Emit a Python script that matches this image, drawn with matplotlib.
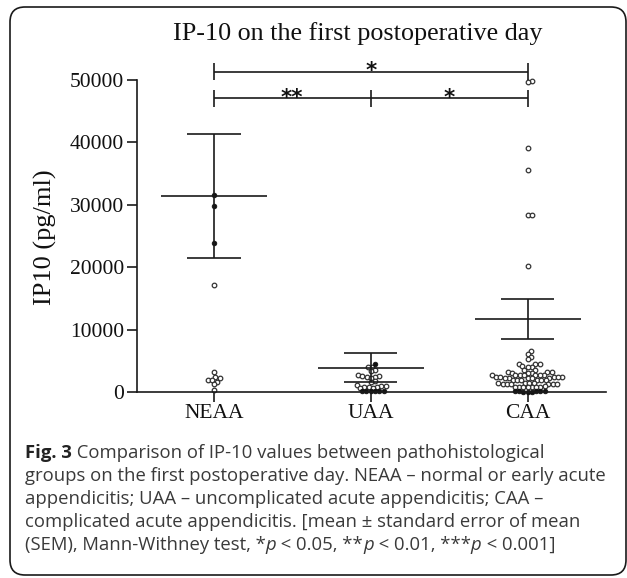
import numpy as np
import matplotlib
matplotlib.use("Agg")
import matplotlib.pyplot as plt
from matplotlib.patches import FancyBboxPatch
from matplotlib.transforms import IdentityTransform

# ---------------- data ----------------
categories = ["NEAA", "UAA", "CAA"]
means = [31400, 3900, 11700]
sems = [9900, 2270, 3280]

neaa_open = [17200, 3150, 2400, 2200, 1950, 1900, 1650, 1250, 400]
neaa_filled = [31500, 29800, 23900]

uaa_open = [4050, 3950, 3500, 3400, 2700, 2600, 2500, 2450, 2400, 2300,
            1700, 1600, 1150, 950, 900, 850, 800, 750, 700, 650]
uaa_filled = [4550, 100, 100, 100, 100, 100, 100]

caa_open = [49900, 49700, 39100, 35500, 28300, 28300, 20200,
            6600, 6100, 5650, 5250,
            4550, 4500, 4450,
            4100, 4050, 4000,
            3550, 3500,
            3200, 3150, 3150, 3100, 3100, 3050,
            2750, 2750, 2700, 2700, 2700, 2650, 2650,
            2400, 2400, 2350, 2350, 2350, 2300, 2300, 2300, 2250, 2250,
            1950, 1950, 1900, 1900, 1900, 1850,
            1450, 1400, 1400, 1400, 1350, 1350, 1350, 1300, 1300, 1250,
            900, 850, 850, 850, 800, 800, 800, 750]
caa_filled = [200, 150, 150, 100, 100, 50, 50, 0]

yticks = [0, 10000, 20000, 30000, 40000, 50000]
title = "IP-10 on the first postoperative day"
ylabel = "IP10 (pg/ml)"
# significance brackets: (x_from, x_to, label)
sig_top = [(0, 2, "*")]
sig_low = [(0, 1, "**"), (1, 2, "*")]

caption_lines = [
    [("Fig. 3", "bold", "normal"), (" Comparison of IP-10 values between pathohistological", "normal", "normal")],
    [("groups on the first postoperative day. NEAA \u2013 normal or early acute", "normal", "normal")],
    [("appendicitis; UAA \u2013 uncomplicated acute appendicitis; CAA \u2013", "normal", "normal")],
    [("complicated acute appendicitis. [mean \u00b1 standard error of mean", "normal", "normal")],
    [("(SEM), Mann-Withney test, *", "normal", "normal"), ("p", "normal", "italic"),
     (" < 0.05, **", "normal", "normal"), ("p", "normal", "italic"),
     (" < 0.01, ***", "normal", "normal"), ("p", "normal", "italic"),
     (" < 0.001]", "normal", "normal")],
]

# ---------------- figure ----------------
W, H = 627, 578
fig = plt.figure(figsize=(W / 100, H / 100), dpi=100)
fig.patch.set_facecolor("white")

# rounded frame
frame = FancyBboxPatch((10, H - 575), 616, 568,
                       boxstyle="round,pad=0,rounding_size=15",
                       transform=IdentityTransform(), fill=False,
                       edgecolor="#1a1a1a", linewidth=1.2)
fig.patches.append(frame)

ax = fig.add_axes([137 / W, 1 - 392 / H, (606 - 137) / W, (392 - 80) / H])
ax.set_xlim(-0.49, 2.5)
ax.set_ylim(0, 50000)

serif = "Liberation Serif"
lc = "#1a1a1a"

for s in ["top", "right"]:
    ax.spines[s].set_visible(False)
for s in ["left", "bottom"]:
    ax.spines[s].set_linewidth(1.2)
    ax.spines[s].set_color(lc)

ax.set_yticks(yticks)
ax.set_yticklabels([str(v) for v in yticks], fontfamily=serif, fontsize=15.5)
ax.set_xticks(range(len(categories)))
ax.set_xticklabels(categories, fontfamily=serif, fontsize=15.5)
ax.tick_params(axis="y", length=7, width=1.2, color=lc, pad=2.5, labelcolor="#111")
ax.tick_params(axis="x", length=7, width=1.2, color=lc, pad=1.5, labelcolor="#111")

ax.set_ylabel(ylabel, fontfamily=serif, fontsize=19, va="center", color="#111")
ax.yaxis.set_label_coords(-0.196, 0.497)

fig.text(358 / W, 1 - 40 / H, title, ha="center", va="baseline",
         fontfamily=serif, fontsize=18.8, color="#111")

# ---------------- swarm layout ----------------
fig.canvas.draw()
p0 = ax.transData.transform((0, 0))
p1 = ax.transData.transform((1, 10000))
x_px_per_unit = p1[0] - p0[0]
y_px_per_unit = (p1[1] - p0[1]) / 10000.0


def swarm(values, d_px=4.3):
    ys = np.asarray(values, float) * y_px_per_unit
    order = np.argsort(ys, kind="stable")
    placed = []
    xs = np.zeros(len(ys))
    for i in order:
        y = ys[i]
        cands = [0.0]
        for (px, py) in placed:
            dy = abs(y - py)
            if dy < d_px:
                dx = np.sqrt(d_px ** 2 - dy ** 2)
                cands += [px + dx, px - dx]
        cands.sort(key=lambda c: (round(abs(c), 6), -c))
        for c in cands:
            if all((c - px) ** 2 + (y - py) ** 2 >= d_px ** 2 - 1e-6 for px, py in placed):
                xs[i] = c
                break
        placed.append((xs[i], y))
    return xs / x_px_per_unit


groups = [(neaa_open, neaa_filled), (uaa_open, uaa_filled), (caa_open, caa_filled)]
for gi, (op, fi) in enumerate(groups):
    vals = list(fi) + list(op)
    flags = [True] * len(fi) + [False] * len(op)
    offs = swarm(vals)
    vals = np.array(vals)
    flags = np.array(flags)
    xs = gi + offs
    ax.plot(xs[~flags], vals[~flags], "o", ms=3.3, mfc="white", mec="#333333",
            mew=0.9, ls="none", zorder=2, clip_on=False)
    ax.plot(xs[flags], vals[flags], "o", ms=3.4, mfc="#111111", mec="#111111",
            mew=0.5, ls="none", zorder=2.5, clip_on=False)

# ---------------- mean +- SEM ----------------
for gi, (m, s) in enumerate(zip(means, sems)):
    ax.hlines(m, gi - 0.338, gi + 0.338, color=lc, lw=1.2, zorder=3)
    ax.hlines([m - s, m + s], gi - 0.17, gi + 0.17, color=lc, lw=1.2, zorder=3)
    ax.vlines(gi, m - s, m + s, color=lc, lw=1.2, zorder=3)

# ---------------- significance brackets ----------------
def bracket(items, y, tick_lo, tick_hi):
    xs_all = sorted(set([a for a, b, _ in items] + [b for a, b, _ in items]))
    ax.hlines(y, min(xs_all), max(xs_all), color=lc, lw=1.2, clip_on=False)
    ax.vlines(xs_all, tick_lo, tick_hi, color=lc, lw=1.2, clip_on=False)
    for a, b, lab in items:
        ax.annotate(lab, xy=((a + b) / 2, y), xytext=(0, -4.0), textcoords="offset points",
                    ha="center", va="baseline", fontsize=15.5, fontfamily="DejaVu Sans",
                    fontweight="bold", color="#111", annotation_clip=False)

bracket(sig_top, 51330, 50000, 52720)
bracket(sig_low, 47070, 45670, 48400)

# ---------------- caption ----------------
renderer = fig.canvas.get_renderer()
baselines = [458, 481, 504, 527, 550]
for line, base in zip(caption_lines, baselines):
    x = 25.0
    for txt, wt, st in line:
        t = fig.text(x / W, 1 - base / H, txt, ha="left", va="baseline",
                     fontfamily="Open Sans", fontsize=13.3, weight=wt, style=st,
                     color="#222222" if wt == "bold" else "#3a3a3a")
        bb = t.get_window_extent(renderer)
        x += bb.width

fig.savefig("out.png", dpi=100, facecolor="white")
